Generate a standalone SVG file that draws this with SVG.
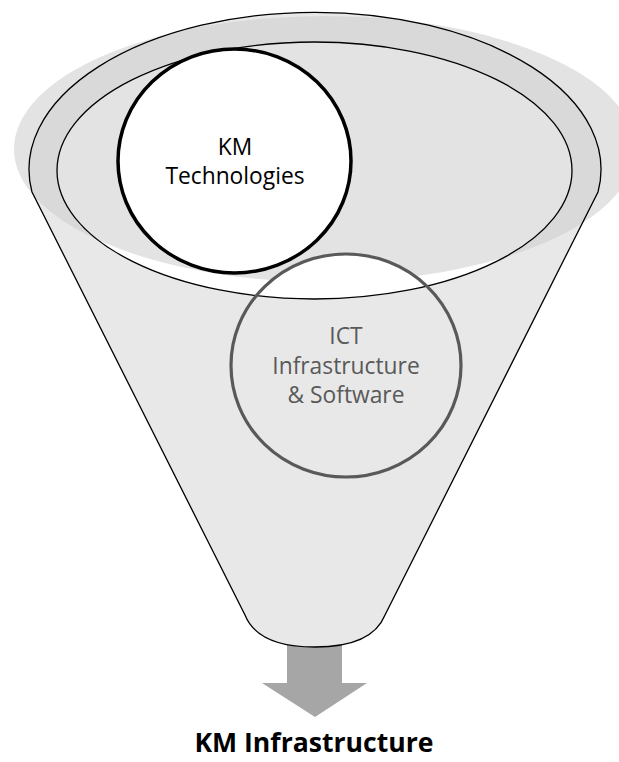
<svg xmlns="http://www.w3.org/2000/svg" width="619" height="762" viewBox="0 0 619 762">
  <defs>
    <style>
      .ln{fill:none;stroke:#000;stroke-width:1.3}
      .lbl{font-family:'Open Sans','Liberation Sans',sans-serif;font-size:22.8px;text-anchor:middle}
      .shadow{}
    </style>
    <clipPath id="funnelClip">
      <path d="M32,192 A286,157 0 1 1 598,192 L385,615 C375,640 345,647 315,647 C285,647 255,640 245,615 Z"/>
    </clipPath>
    <clipPath id="innerClip">
      <ellipse cx="314.5" cy="170.5" rx="257.5" ry="128.5"/>
    </clipPath>
  </defs>
  <rect width="619" height="762" fill="#fff"/>
  <g id="connectors">
    <polygon points="287,635 342,635 342,683 367,683 315,717 262,683 287,683" fill="#a6a6a6"/>
  </g>
  <g id="funnel">
    <ellipse cx="324.5" cy="149" rx="310.5" ry="133" fill="#e3e3e3"/>
    <path d="M32,192 A286,157 0 1 1 598,192 L385,615 C375,640 345,647 315,647 C285,647 255,640 245,615 Z" fill="#e8e8e8"/>
    <ellipse cx="324.5" cy="149" rx="310.5" ry="133" fill="#d9d9d9" clip-path="url(#funnelClip)"/>
    <ellipse cx="314.5" cy="170.5" rx="257.5" ry="128.5" fill="#fff"/>
    <ellipse cx="324.5" cy="149" rx="310.5" ry="133" fill="#e3e3e3" clip-path="url(#innerClip)"/>
    <ellipse cx="346" cy="365.5" rx="115" ry="111.5" fill="#fff" clip-path="url(#innerClip)"/>
    <ellipse class="ln" cx="314.5" cy="170.5" rx="257.5" ry="128.5"/>
    <path class="ln" d="M32,192 A286,157 0 1 1 598,192 L385,615 C375,640 345,647 315,647 C285,647 255,640 245,615 Z"/>
  </g>
  <g id="km-technologies">
    <ellipse cx="234.5" cy="161" rx="116.5" ry="112" fill="#fff" stroke="#000" stroke-width="3.5"/>
    <text class="lbl" fill="#000" x="235" y="155">KM</text>
    <text class="lbl" fill="#000" x="235" y="184">Technologies</text>
  </g>
  <g id="ict-infrastructure">
    <ellipse cx="346" cy="365.5" rx="115" ry="111.5" fill="none" stroke="#595959" stroke-width="3.2"/>
    <text class="lbl" fill="#595959" x="346" y="344">ICT</text>
    <text class="lbl" fill="#595959" x="346" y="374">Infrastructure</text>
    <text class="lbl" fill="#595959" x="346" y="403">&amp; Software</text>
  </g>
  <g id="result">
    <text x="314" y="752" font-family="'Open Sans','Liberation Sans',sans-serif" font-size="26.6" font-weight="bold" text-anchor="middle" fill="#000">KM Infrastructure</text>
  </g>
</svg>
